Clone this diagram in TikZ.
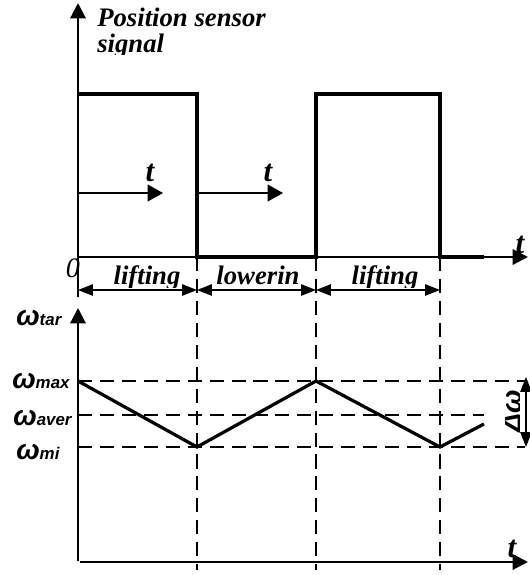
\documentclass[tikz,border=0pt]{standalone}
\usepackage{fontspec}
\setmainfont{Liberation Serif}
\setsansfont{Liberation Sans}
\usetikzlibrary{positioning,arrows.meta}

\begin{document}
\begin{tikzpicture}[
    x=0.025cm, y=-0.025cm,
    axis/.style={-{Triangle[length=11pt,width=11pt]}, line width=1.5pt},
    signal/.style={line width=2.3pt},
    guide/.style={line width=1.1pt, dash pattern=on 10pt off 5.6pt},
    span/.style={{Triangle[length=10.5pt,width=8pt]}-{Triangle[length=10.5pt,width=8pt]}, line width=1pt},
    tmark/.style={-{Triangle[length=11pt,width=12pt]}, line width=1.2pt},
    txt/.style={font=\bfseries\itshape\fontsize{19}{19}\selectfont, inner sep=0pt},
    tlabel/.style={font=\bfseries\itshape\fontsize{22}{22}\selectfont, inner sep=0pt},
    speed/.style={font=\sffamily\bfseries\itshape\fontsize{20}{20}\selectfont, inner sep=0pt, anchor=base west}
  ]
  \useasboundingbox (0,0) rectangle (530,575);

  % Position sensor signal
  \coordinate (o) at (78,257);
  \coordinate (top) at (78,3);
  \coordinate (end) at (528,257);
  \coordinate (a) at (197,257);
  \coordinate (b) at (316,257);
  \coordinate (c) at (440,257);
  \draw[axis] (78,297) -- (top);
  \draw[axis] (o) -- (end);
  \draw[signal] (78,94) -- (197,94) -- (a) -- (b) -- (316,94) -- (440,94) -- (c) -- (484,257);
  \draw[tmark] (78,193) -- (163,193);
  \draw[tmark] (197,193) -- (283,193);
  \node[tlabel] (t1) at (150,173) {t};
  \node[tlabel] (t2) at (268,173) {t};
  \node[tlabel] (t3) at (520,245) {t};
  \node[font=\itshape\fontsize{20}{20}\selectfont, inner sep=0pt] (zero) at (73,268) {0};
  \begin{scope}
    \clip (90,0) rectangle (270,54);
    \node[txt, anchor=base west] (title1) at (97,26) {Position sensor};
    \node[txt, anchor=base west] (title2) at (97,52) {signal};
  \end{scope}

  % Spans
  \begin{scope}
    \clip (0,260) rectangle (530,287);
    \node[txt, anchor=base] (lift1) at (147,284) {lifting};
    \node[txt, anchor=base] (lower) at (258,284) {lowerin};
    \node[txt, anchor=base] (lift2) at (385,284) {lifting};
  \end{scope}
  \coordinate (s0) at (78,290);
  \coordinate (s1) at (197,290);
  \coordinate (s2) at (316,290);
  \coordinate (s3) at (440,290);
  \draw[span] (s0) -- (s1);
  \draw[span] (s1) -- (s2);
  \draw[span] (s2) -- (s3);

  % Target speed
  \coordinate (p0) at (78,381);
  \coordinate (p1) at (197,447);
  \coordinate (p2) at (316,381);
  \coordinate (p3) at (440,447);
  \coordinate (p4) at (484,424);
  \draw[axis] (78,561) -- (78,308);
  \draw[axis] (80,562) -- (528,562);
  \draw[guide] (197,257) -- (197,570);
  \draw[guide] (316,257) -- (316,570);
  \draw[guide] (440,257) -- (440,570);
  \draw[guide] (p0) -- (525,381);
  \draw[guide] (78,415) -- (484,415);
  \draw[guide] (78,447) -- (525,447);
  \draw[signal] (p0) -- (p1) -- (p2) -- (p3) -- (p4);
  \draw[span] (526,377) -- (526,447);
  \node[tlabel] (t4) at (512,549) {t};
  \node[speed] (tar) at (16,325) {ω\fontsize{12}{12}\selectfont tar};
  \node[speed] (max) at (12,388) {ω\fontsize{12}{12}\selectfont max};
  \node[speed] (aver) at (13,425) {ω\fontsize{12}{12}\selectfont aver};
  \node[speed] (min) at (16,459) {ω\fontsize{12}{12}\selectfont mi};
  \begin{scope}
    \clip (505,385) rectangle (519,435);
    \node[txt, font=\sffamily\bfseries\itshape\fontsize{20}{20}\selectfont, rotate=90] (delta) at (512,411) {Δω};
  \end{scope}
\end{tikzpicture}
\end{document}
